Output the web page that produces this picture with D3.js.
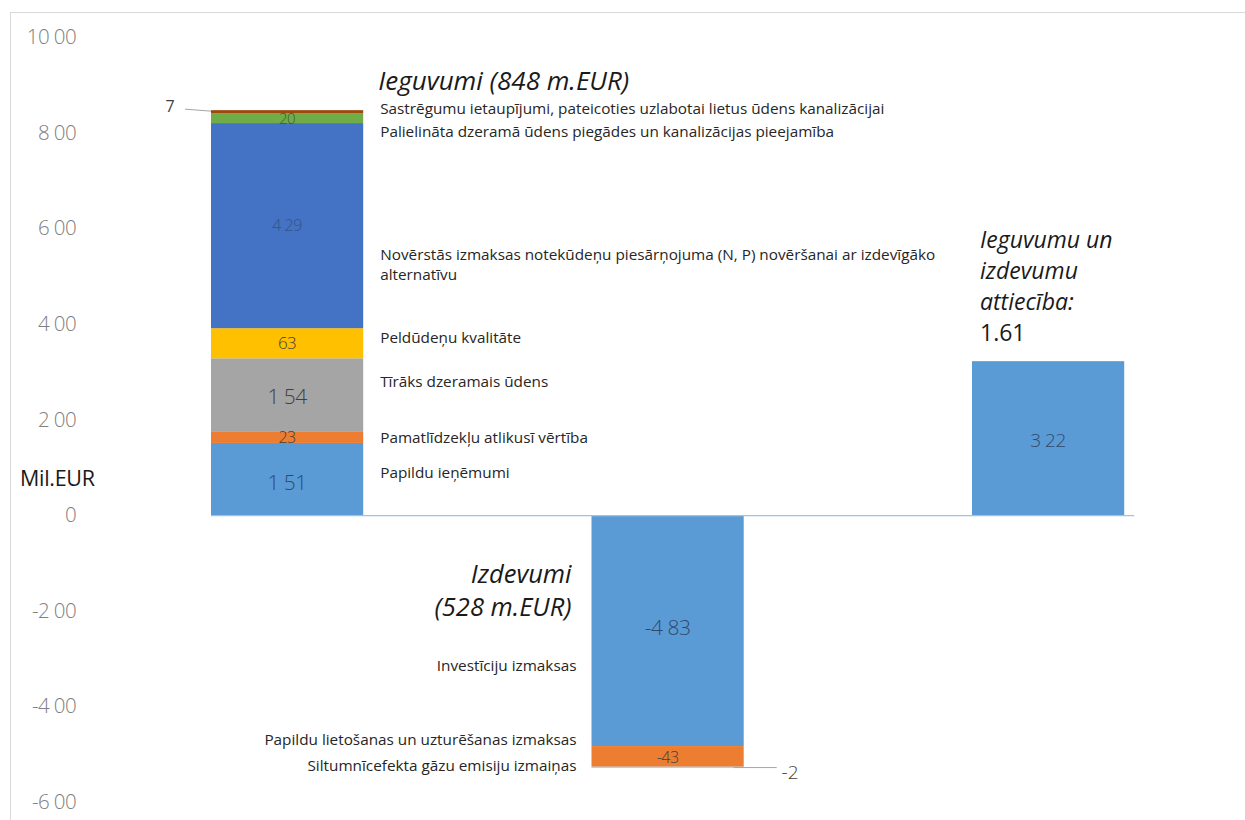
<!DOCTYPE html>
<html><head><meta charset="utf-8">
<script src="https://cdn.jsdelivr.net/npm/d3@7"></script>
<style>body{margin:0;background:#fff}svg{display:block}text{font-family:"Open Sans",Lato,sans-serif}</style>
</head><body><svg id="c" width="1245" height="820"></svg>
<script>
// ---- data ----
const categories = ["Ieguvumi", "Izdevumi", "Attiecība"];
const benefitNames = ["Papildu ieņēmumi", "Pamatlīdzekļu atlikusī vērtība", "Tīrāks dzeramais ūdens", "Peldūdeņu kvalitāte", "Novērstās izmaksas notekūdeņu piesārņojuma (N, P) novēršanai ar izdevīgāko|alternatīvu", "Palielināta dzeramā ūdens piegādes un kanalizācijas  pieejamība", "Sastrēgumu ietaupījumi, pateicoties uzlabotai lietus ūdens kanalizācijai"];
const benefitValues = [151, 23, 154, 63, 429, 20, 7];
const costNames = ["Investīciju izmaksas", "Papildu lietošanas un uzturēšanas izmaksas", "Siltumnīcefekta gāzu emisiju izmaiņas"];
const costValues = [-483, -43, -2];
const balanceValue = [322];
const tickValues = [1000, 800, 600, 400, 200, 0, -200, -400, -600];
const tickLabels = ["10 00", "8 00", "6 00", "4 00", "2 00", "0", "-2 00", "-4 00", "-6 00"];
const benefitTitle = "Ieguvumi (848 m.EUR)";
const costTitle = ["Izdevumi", "(528 m.EUR)"];
const ratioTitle = ["Ieguvumu un", "izdevumu", "attiecība:"];
const ratioValue = "1.61";
const unitLabel = "Mil.EUR";

// ---- styles ----
const benefitColors = ["#5b9bd5", "#ed7d31", "#a5a5a5", "#ffc000", "#4472c4", "#70ad47", "#9e480e"];
const costColors = ["#5b9bd5", "#ed7d31", "#a5a5a5"];
const balanceColor = "#5b9bd5";

const svg = d3.select("#c");
const x = d3.scaleBand().domain(categories).range([211, 1124.2]).paddingInner(0.6).paddingOuter(0);
const y = d3.scaleLinear().domain([-600, 1000]).range([802, 37]);

const fmt = v => { const a = Math.abs(v); const s = v < 0 ? "-" : ""; return a >= 100 ? s + Math.floor(a/100) + " " + String(a%100).padStart(2,"0") : s + a; };

// frame
svg.append("line").attr("x1",10).attr("x2",1245).attr("y1",12.5).attr("y2",12.5).attr("stroke","#d9d9d9");
svg.append("line").attr("x1",10.5).attr("x2",10.5).attr("y1",12).attr("y2",820).attr("stroke","#d9d9d9");

// y axis
const ax = svg.append("g").attr("transform","translate(76,0)")
  .call(d3.axisLeft(y).tickValues(tickValues).tickSize(0).tickPadding(0).tickFormat((d,i)=>tickLabels[i]));
ax.select(".domain").remove();
ax.selectAll("text").attr("font-family","'Open Sans'").attr("font-size",20.5).attr("fill","#808080").attr("font-weight",300).attr("letter-spacing",-0.6);

// unit label
svg.append("rect").attr("x",14).attr("y",464).attr("width",92).attr("height",30).attr("fill","#fff");
svg.append("text").attr("x",20).attr("y",486).attr("font-size",21.5).attr("fill","#1a1a1a").attr("letter-spacing",-0.3).text(unitLabel);

// stacks
function stackOf(vals){ let acc=0; return vals.map(v=>{const s={y0:acc,y1:acc+v,v}; acc+=v; return s;}); }
const bStack = stackOf(benefitValues);
const cStack = stackOf(costValues);

const bw = x.bandwidth();
function drawStack(cat, st, colors){
  svg.append("g").selectAll("rect").data(st).join("rect")
    .attr("x", x(cat)).attr("width", bw)
    .attr("y", d=>y(Math.max(d.y0,d.y1))).attr("height", d=>Math.abs(y(d.y0)-y(d.y1)))
    .attr("fill",(d,i)=>colors[i]);
}
drawStack(categories[0], bStack, benefitColors);
drawStack(categories[1], cStack, costColors);
svg.append("rect").attr("x",x(categories[2])).attr("width",bw)
  .attr("y",y(balanceValue[0])).attr("height",y(0)-y(balanceValue[0])).attr("fill",balanceColor);

// baseline
svg.append("line").attr("x1",x(categories[0])).attr("x2",x(categories[2])+bw+10)
  .attr("y1",y(0)+0.5).attr("y2",y(0)+0.5).attr("stroke","#9dc3e6").attr("stroke-width",1.2);

// value labels
const cx = c => x(c)+bw/2;
const bSizes = [21,16,21,17,16,15,0];
bStack.forEach((d,i)=>{
  if(!bSizes[i]) return;
  const ym = (y(d.y0)+y(d.y1))/2 + (i===0 ? 4 : i===2 ? 2 : 0);
  svg.append("text").attr("x",cx(categories[0])).attr("y",ym).attr("dy","0.35em")
    .attr("text-anchor","middle").attr("font-size",bSizes[i])
    .attr("fill", i===0||i===4 ? "#2f4a6e" : i===5 ? "#3d5a3a" : "#404040")
    .attr("fill-opacity", i===4 ? 0.8 : 1).attr("font-weight", 300)
    .attr("letter-spacing", -0.5)
    .text(fmt(d.v));
});
const cSizes = [21,16,0];
cStack.forEach((d,i)=>{
  if(!cSizes[i]) return;
  const ym = (y(d.y0)+y(d.y1))/2 + (i===0 ? -3 : 1);
  svg.append("text").attr("x",cx(categories[1])).attr("y",ym).attr("dy","0.35em")
    .attr("text-anchor","middle").attr("font-size",cSizes[i]).attr("font-weight",300).attr("letter-spacing",-0.5)
    .attr("fill", i===0 ? "#2f4a6e" : "#404040").text(fmt(d.v));
});
svg.append("text").attr("x",cx(categories[2])).attr("y",y(balanceValue[0]/2)+2).attr("dy","0.35em")
  .attr("text-anchor","middle").attr("font-size",19).attr("font-weight",300).attr("letter-spacing",-0.5).attr("fill","#2f4a6e").text(fmt(balanceValue[0]));

// leader for small segments
const top7 = bStack[6];
svg.append("line").attr("x1",185).attr("x2",x(categories[0])).attr("y1",y(top7.y1)-1).attr("y2",y(top7.y1)+1).attr("stroke","#a6a6a6");
svg.append("text").attr("x",170).attr("y",y(top7.y1)).attr("dy","0.1em").attr("text-anchor","middle").attr("font-size",16).attr("fill","#404040").text(fmt(top7.v));
const bot2 = cStack[2];
svg.append("line").attr("x1",x(categories[1])+bw-10).attr("x2",x(categories[1])+bw+33).attr("y1",y(bot2.y1)).attr("y2",y(bot2.y1)).attr("stroke","#a6a6a6");
svg.append("text").attr("x",790).attr("y",y(bot2.y1)+5).attr("dy","0.35em").attr("text-anchor","middle").attr("font-size",19).attr("font-weight",300).attr("fill","#404040").text(fmt(bot2.v));

// category annotations (positions given in axis units)
const bLabelAt = [88, 163, 280, 372, 544, 803, 851];
const lx = x(categories[0]) + bw + 17;
benefitNames.forEach((n,i)=>{
  const t = svg.append("text").attr("x",lx).attr("y",y(bLabelAt[i])).attr("font-size",15.3).attr("fill","#262626");
  n.split("|").forEach((s,k)=>t.append("tspan").attr("x",lx).attr("dy",k?"1.3em":"0.35em").text(s));
});
const cLabelAt = [-315, -470, -525];
const rx = x(categories[1]) - 15;
costNames.forEach((n,i)=>{
  svg.append("text").attr("x",rx).attr("y",y(cLabelAt[i])).attr("dy","0.35em").attr("text-anchor","end").attr("font-size",15.3).attr("fill","#262626").text(n);
});

// titles
svg.append("text").attr("x",lx-2).attr("y",90).attr("font-size",26).attr("font-style","italic").attr("fill","#1a1a1a").text(benefitTitle);
costTitle.forEach((s,k)=>svg.append("text").attr("x",rx-5).attr("y",583+k*33).attr("text-anchor","end").attr("font-size",25.5).attr("font-style","italic").attr("fill","#1a1a1a").text(s));
const tx = x(categories[2]) + 8;
ratioTitle.forEach((s,k)=>svg.append("text").attr("x",tx).attr("y",248+k*31).attr("font-size",23).attr("font-style","italic").attr("fill","#1a1a1a").text(s));
svg.append("text").attr("x",tx).attr("y",341).attr("font-size",23).attr("fill","#1a1a1a").text(ratioValue);
</script></body></html>
